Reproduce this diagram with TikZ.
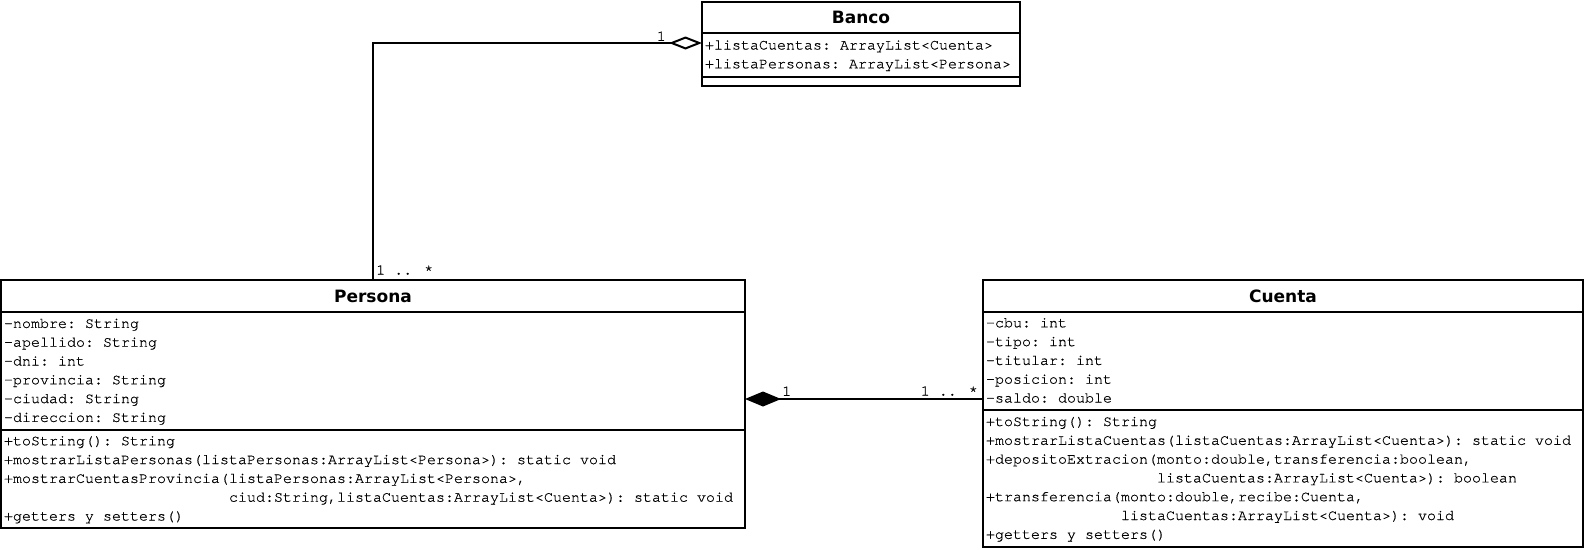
\documentclass[tikz,border=0pt]{standalone}
\usepackage{fontspec}
\usepackage{tikz}
\usetikzlibrary{positioning, arrows.meta}
\newfontfamily\umlmono{TeX Gyre Cursor}[FakeBold=0.5]
\newfontfamily\umlsans{DejaVu Sans}
\newcommand{\umlfont}{\umlmono\fontsize{15pt}{18.8pt}\selectfont}
\newcommand{\umlstrut}{\rule[-5.5pt]{0pt}{18.8pt}}
\newcommand{\umlstart}{\spaceskip=9pt\xspaceskip=9pt\relax\umlstrut}

\begin{document}
\begin{tikzpicture}[x=1pt, y=1pt, umltitle/.style={draw, line width=2pt, outer sep=0pt, inner sep=0pt, align=center, minimum height=32pt, font=\umlsans\bfseries\fontsize{17pt}{20pt}\selectfont}, umlbody/.style={draw, line width=2pt, outer sep=0pt, inner xsep=3pt, inner ysep=0pt, align=left, font=\umlfont, execute at begin node=\umlstart, execute at end node=\umlstrut}, umlempty/.style={draw, line width=2pt, outer sep=0pt, inner sep=0pt, minimum height=9pt}, umllabel/.style={inner sep=0pt, font=\umlfont}, umlline/.style={line width=2pt}, wbanco/.style={minimum width=318pt, text width=312pt}, wpersona/.style={minimum width=744pt, text width=738pt}, wcuenta/.style={minimum width=600pt, text width=594pt}]

        \useasboundingbox (0,0) rectangle (1588,-549);

        \node[umltitle, wbanco, anchor=north west, minimum height=31pt] (bancoT) at (702,-2) {Banco};
        \node[umlbody, wbanco, below=0pt of bancoT, minimum height=44pt] (bancoA) {+listaCuentas: ArrayList<Cuenta>\\+listaPersonas: ArrayList<Persona>};
        \node[umlempty, minimum width=318pt, below=0pt of bancoA] (bancoO) {};

        \node[umltitle, wpersona, anchor=north west] (personaT) at (1,-280) {Persona};
        \node[umlbody, wpersona, below=0pt of personaT, minimum height=118pt] (personaA) {-nombre: String\\-apellido: String\\-dni: int\\-provincia: String\\-ciudad: String\\-direccion: String};
        \node[umlbody, wpersona, below=0pt of personaA, minimum height=98pt] (personaO) {+toString(): String\\+mostrarListaPersonas(listaPersonas:ArrayList<Persona>): static void\\+mostrarCuentasProvincia(listaPersonas:ArrayList<Persona>,\\\hspace*{15em}ciud:String,listaCuentas:ArrayList<Cuenta>): static void\\+getters y setters()};

        \node[umltitle, wcuenta, right=238pt of personaT] (cuentaT) {Cuenta};
        \node[umlbody, wcuenta, below=0pt of cuentaT, minimum height=98pt] (cuentaA) {-cbu: int\\-tipo: int\\-titular: int\\-posicion: int\\-saldo: double};
        \node[umlbody, wcuenta, below=0pt of cuentaA, minimum height=137pt] (cuentaO) {+toString(): String\\+mostrarListaCuentas(listaCuentas:ArrayList<Cuenta>): static void\\+depositoExtracion(monto:double,transferencia:boolean,\\\hspace*{11.4em}listaCuentas:ArrayList<Cuenta>): boolean\\+transferencia(monto:double,recibe:Cuenta,\\\hspace*{9em}listaCuentas:ArrayList<Cuenta>): void\\+getters y setters()};

        \coordinate (aggr) at ([yshift=-10pt]bancoA.north west);
        \coordinate (compo) at ([yshift=-87pt]personaA.north east);
        \coordinate (compoR) at (compo -| cuentaA.west);

        \path[draw, umlline, {Diamond[open, length=33pt, width=13pt]}-] (aggr) -| (personaT);
        \path[draw, umlline, {Diamond[length=36pt, width=15pt]}-] (compo) -- (compoR);

        \node[umllabel, above left=2pt and 36pt of aggr] (multBanco) {1};
        \node[umllabel, above right=5pt and 3pt of personaT.north] (multPersona) {1 .. *};
        \node[umllabel, above right=3pt and 37pt of compo] (multCompo) {1};
        \node[umllabel, above left=3pt and 5pt of compoR] (multCuenta) {1 .. *};
\end{tikzpicture}
\end{document}
